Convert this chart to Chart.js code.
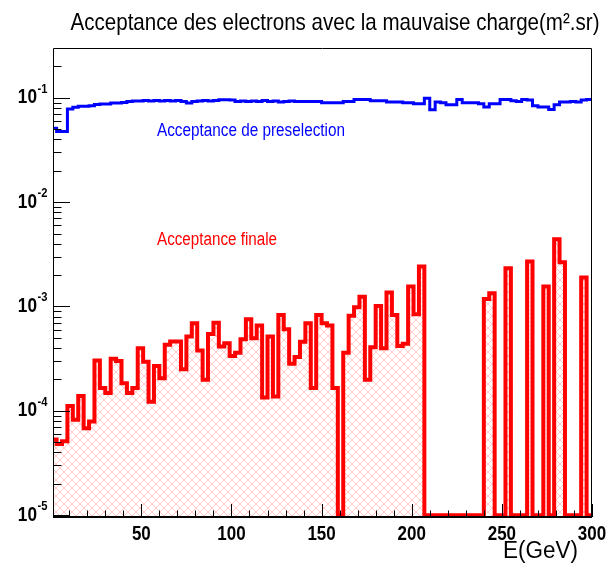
<!DOCTYPE html>
<html>
<head>
<meta charset="utf-8">
<script src="https://cdn.jsdelivr.net/npm/chart.js@4/dist/chart.umd.min.js"></script>
<style>
  html, body { margin: 0; padding: 0; background: #fff; }
  #wrap { width: 607px; height: 571px; }
</style>
</head>
<body>
<div id="wrap"><canvas id="chart" width="607" height="571"></canvas></div>
<script>
// ==========================================
// DONNEES (histogrammes, 100 bins de 3 GeV)
// ==========================================

const binWidth = 3; // GeV

// Acceptance de preselection (m2.sr), bleu
const accPreselection = [
  0.051, 0.0475, 0.0475, 0.078, 0.081, 0.083, 0.083, 0.084, 0.086, 0.087,
  0.087, 0.089, 0.089, 0.090, 0.092, 0.093, 0.093, 0.094, 0.093, 0.094,
  0.093, 0.094, 0.093, 0.094, 0.092, 0.089, 0.092, 0.093, 0.094, 0.093,
  0.094, 0.096, 0.096, 0.095, 0.092, 0.093, 0.092, 0.093, 0.092, 0.094,
  0.092, 0.093, 0.091, 0.092, 0.093, 0.092, 0.092, 0.092, 0.092, 0.092,
  0.0896, 0.0896, 0.0896, 0.0896, 0.092, 0.092, 0.0964, 0.0964, 0.0964, 0.0936,
  0.0936, 0.0936, 0.091, 0.091, 0.091, 0.0896, 0.0896, 0.0876, 0.0876, 0.099,
  0.077, 0.091, 0.0896, 0.0857, 0.0857, 0.0964, 0.0896, 0.0896, 0.0896, 0.0876,
  0.0814, 0.0876, 0.0876, 0.0964, 0.0964, 0.0936, 0.0922, 0.0964, 0.095, 0.084,
  0.0814, 0.0814, 0.0773, 0.0857, 0.091, 0.091, 0.0922, 0.091, 0.095, 0.0964
];

// Acceptance finale (m2.sr), rouge hachuré
const accFinale = [
  5.3e-5, 4.8e-5, 5.1e-5, 1.11e-4, 8.2e-5, 1.39e-4, 6.8e-5, 7.9e-5, 3.03e-4, 1.65e-4,
  1.48e-4, 3.15e-4, 3.0e-4, 1.84e-4, 1.48e-4, 1.65e-4, 3.98e-4, 2.96e-4, 1.22e-4, 2.69e-4,
  2.05e-4, 4.29e-4, 4.62e-4, 4.62e-4, 2.5e-4, 5.15e-4, 6.9e-4, 3.78e-4, 1.98e-4, 5.46e-4,
  7.0e-4, 4.13e-4, 4.45e-4, 3.36e-4, 3.61e-4, 4.85e-4, 7.55e-4, 4.97e-4, 6.56e-4, 1.34e-4,
  5.15e-4, 1.37e-4, 8.3e-4, 6.05e-4, 2.82e-4, 3.27e-4, 4.58e-4, 6.9e-4, 1.65e-4, 8.3e-4,
  6.9e-4, 6.56e-4, 1.65e-4, 0, 3.61e-4, 8.13e-4, 9.84e-4, 1.24e-3, 1.98e-4, 4.07e-4,
  1.01e-3, 3.98e-4, 1.36e-3, 8.3e-4, 4.19e-4, 4.4e-4, 1.55e-3, 8.43e-4, 2.41e-3, 0,
  0, 0, 0, 0, 0, 0, 0, 0, 0, 0,
  1.18e-3, 1.34e-3, 0, 0, 2.33e-3, 0, 0, 0, 2.7e-3, 0,
  0, 1.55e-3, 0, 4.41e-3, 2.66e-3, 0, 0, 0, 1.89e-3, 0
];

const xTickValues = [50, 100, 150, 200, 250, 300];
const yTickExponents = [-1, -2, -3, -4, -5];

const titleText = 'Acceptance des electrons avec la mauvaise charge(m\u00B2.sr)';
const xAxisTitle = 'E(GeV)';
const labelPresel = 'Acceptance de preselection';
const labelFinale = 'Acceptance finale';

// ==========================================
// CONSTRUCTION
// ==========================================

const Y_FLOOR = 1e-5;   // les bins vides sont dessinés sur le bas du cadre
const FONT = '"Liberation Sans", Arial, Helvetica, sans-serif';

// points aux bords gauches des bins + bord final
function histPoints(values) {
  const pts = values.map((v, i) => ({ x: i * binWidth, y: v > 0 ? v : Y_FLOOR }));
  pts.push({ x: values.length * binWidth, y: pts[pts.length - 1].y });
  return pts;
}

function makeHatch() {
  const s = 8;
  const c = document.createElement('canvas');
  c.width = s; c.height = s;
  const g = c.getContext('2d');
  g.strokeStyle = 'rgba(255, 90, 90, 0.32)';
  g.lineWidth = 1;
  g.beginPath();
  g.moveTo(-1, -1); g.lineTo(s + 1, s + 1);
  g.moveTo(s + 1, -1); g.lineTo(-1, s + 1);
  g.stroke();
  return g.createPattern(c, 'repeat');
}

function drawText(ctx, text, x, y, font, color, align, sx) {
  ctx.save();
  ctx.font = font;
  ctx.fillStyle = color;
  ctx.textAlign = align;
  ctx.textBaseline = 'alphabetic';
  ctx.translate(x, y);
  ctx.scale(sx, 1);
  ctx.fillText(text, 0, 0);
  ctx.restore();
}

function fitText(ctx, text, x, y, font, color, align, width) {
  ctx.save();
  ctx.font = font;
  const sx = width / ctx.measureText(text).width;
  ctx.restore();
  drawText(ctx, text, x, y, font, color, align, sx);
}

// cadre, graduations internes et textes façon ROOT
const rootAxes = {
  id: 'rootAxes',
  afterDatasetsDraw(chart) {
    const { ctx, chartArea: a, scales: { x, y } } = chart;
    ctx.save();
    ctx.strokeStyle = '#000';
    ctx.lineWidth = 1;
    ctx.beginPath();
    ctx.moveTo(a.left + 0.5, a.bottom); ctx.lineTo(a.left + 0.5, a.top + 0.5);
    ctx.lineTo(a.right - 0.5, a.top + 0.5); ctx.lineTo(a.right - 0.5, a.bottom);
    ctx.stroke();

    // graduations x
    ctx.beginPath();
    for (let v = 10; v <= 300; v += 10) {
      const px = Math.round(x.getPixelForValue(v)) + 0.5;
      const len = v % 50 === 0 ? 13 : 6.5;
      ctx.moveTo(px, a.bottom);
      ctx.lineTo(px, a.bottom - len);
    }
    // graduations y (log)
    for (let e = -5; e <= 0; e++) {
      for (let m = 1; m <= 9; m++) {
        const v = m * Math.pow(10, e);
        if (v < y.min || v > y.max) continue;
        const py = Math.round(y.getPixelForValue(v)) + 0.5;
        const len = m === 1 ? 17 : 8.5;
        ctx.moveTo(a.left, py);
        ctx.lineTo(a.left + len, py);
      }
    }
    ctx.stroke();

    ctx.lineWidth = 2;
    ctx.beginPath();
    ctx.moveTo(a.left, a.bottom); ctx.lineTo(a.right, a.bottom);
    ctx.stroke();
    ctx.restore();
  },
  afterDraw(chart) {
    const { ctx, scales: { x, y } } = chart;

    xTickValues.forEach(v => {
      drawText(ctx, String(v), x.getPixelForValue(v), 539.5, 'bold 20px ' + FONT, '#000', 'center', 0.85);
    });
    yTickExponents.forEach(e => {
      const py = y.getPixelForValue(Math.pow(10, e));
      drawText(ctx, '10', 37, py + 5.5, 'bold 20px ' + FONT, '#000', 'right', 0.86);
      drawText(ctx, String(e), 37.5, py - 5, 'bold 13px ' + FONT, '#000', 'left', 0.86);
    });

    fitText(ctx, titleText, 70.5, 29.5, '24px ' + FONT, '#000', 'left', 529);
    fitText(ctx, labelPresel, 157, 135.5, '18px ' + FONT, '#0000ff', 'left', 188);
    fitText(ctx, labelFinale, 157, 245, '18px ' + FONT, '#ff0000', 'left', 120);
    fitText(ctx, xAxisTitle, 578, 558, '23px ' + FONT, '#000', 'right', 75);
  }
};

const ctx = document.getElementById('chart').getContext('2d');

new Chart(ctx, {
  type: 'line',
  data: {
    datasets: [{
      label: labelPresel,
      data: histPoints(accPreselection),
      borderColor: '#0000ff',
      borderWidth: 3,
      stepped: true,
      pointRadius: 0,
      borderJoinStyle: 'miter',
      fill: false
    }, {
      label: labelFinale,
      data: histPoints(accFinale),
      borderColor: '#ff0000',
      borderWidth: 4,
      stepped: true,
      pointRadius: 0,
      borderJoinStyle: 'miter',
      backgroundColor: makeHatch(),
      fill: 'start'
    }]
  },
  options: {
    responsive: false,
    animation: false,
    devicePixelRatio: 1,
    layout: { padding: { left: 53, top: 48, right: 15, bottom: 54 } },
    plugins: {
      legend: { display: false },
      tooltip: { enabled: false },
      title: { display: false }
    },
    scales: {
      x: { type: 'linear', min: 1, max: 300, display: false },
      y: { type: 'logarithmic', min: 0.96e-5, max: 0.3, display: false }
    }
  },
  plugins: [rootAxes]
});
</script>
</body>
</html>
